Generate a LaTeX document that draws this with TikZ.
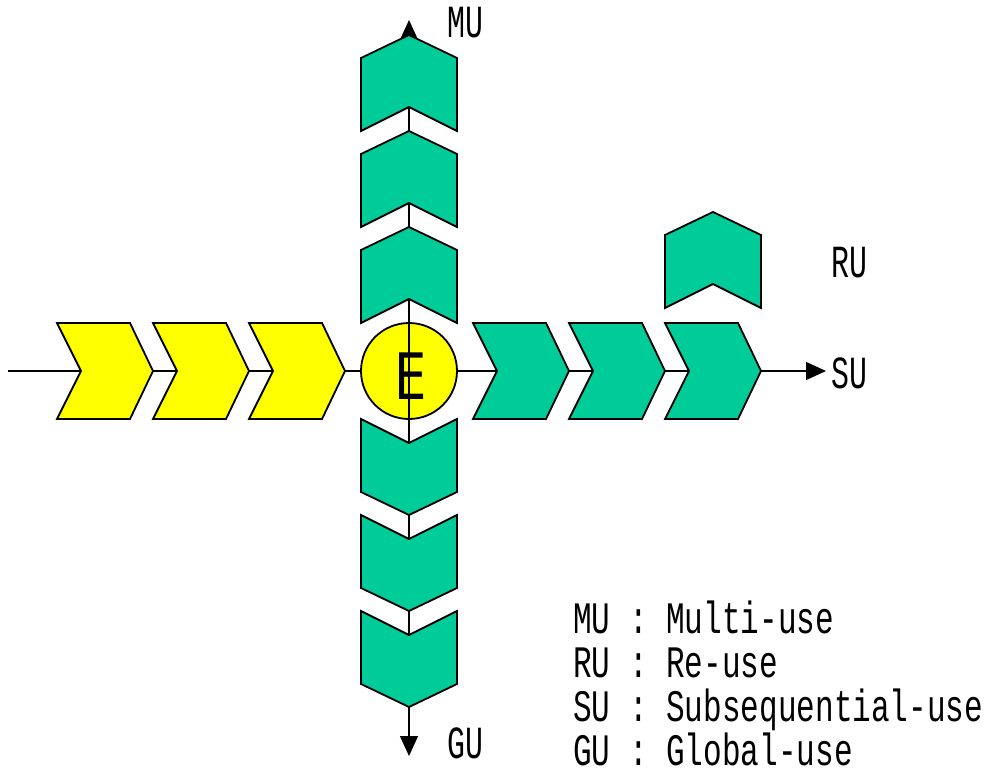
\documentclass[tikz,border=0pt]{standalone}
\usepackage{fontspec}
\usetikzlibrary{arrows.meta}
\newfontfamily\legfont{Liberation Mono}[FakeStretch=0.69]
\newfontfamily\lblfont{Liberation Mono}[FakeStretch=0.65]
\newfontfamily\efont{DejaVu Sans}[FakeStretch=0.8]
\definecolor{chgreen}{RGB}{0,204,153}
\definecolor{chyellow}{RGB}{255,255,0}
\newcommand\chevron[3]{% fill colour, shift, rotation
  \draw[chevstyle,fill=#1,shift={#2},rotate=#3]
    (0,48) -- (73,48) -- (96,0) -- (73,-48) -- (0,-48) -- (24,0) -- cycle;}
\tikzset{
  chevstyle/.style={draw=black,line width=1.8pt,line join=miter},
  axis/.style={line width=1.4pt,draw=black},
  tipstyle/.style={-{Triangle[length=20pt,width=18pt]}},
  lbl/.style={font=\lblfont\fontsize{46}{46}\selectfont,inner sep=0pt},
  leg/.style={font=\legfont\fontsize{45}{45}\selectfont,inner sep=0pt,anchor=base west},
}
\begin{document}
\begin{tikzpicture}[x=1pt,y=-1pt]
\useasboundingbox (0,0) rectangle (986,770);
% axis coordinates
\coordinate (start) at (8,371);
\coordinate (suend) at (826,371);
\coordinate (center) at (409,371);
\coordinate (mutop) at (409,20);
\coordinate (gubot) at (409,756);
% horizontal axis
\draw[axis,tipstyle] (start) -- (suend);
% central circle
\node[circle,draw=black,line width=1.8pt,fill=chyellow,minimum size=96pt,inner sep=0pt] (E) at (center) {};
% vertical axis
\draw[axis,tipstyle] (center) -- (mutop);
\draw[axis,tipstyle] (center) -- (gubot);
% yellow chevrons
\chevron{chyellow}{(57,371)}{0}
\chevron{chyellow}{(153,371)}{0}
\chevron{chyellow}{(249,371)}{0}
% green chevrons (SU)
\chevron{chgreen}{(473,371)}{0}
\chevron{chgreen}{(569,371)}{0}
\chevron{chgreen}{(665,371)}{0}
% RU chevron
\chevron{chgreen}{(713,308)}{90}
% MU chevrons
\chevron{chgreen}{(409,323)}{90}
\chevron{chgreen}{(409,227)}{90}
\chevron{chgreen}{(409,131)}{90}
% GU chevrons
\chevron{chgreen}{(409,419)}{-90}
\chevron{chgreen}{(409,515)}{-90}
\chevron{chgreen}{(409,611)}{-90}
% E letter
\node[font=\efont\fontsize{64}{64}\selectfont,inner sep=0pt] (Elbl) at (411,376) {E};
% labels
\node[lbl] (mu) at (465,23) {MU};
\node[lbl] (ru) at (849,263) {RU};
\node[lbl] (su) at (849,373) {SU};
\node[lbl] (gu) at (465,743) {GU};
% legend
\node[leg] (l1) at (573,633) {MU : Multi-use};
\node[leg] (l2) at (573,677) {RU : Re-use};
\node[leg] (l3) at (573,721) {SU : Subsequential-use};
\node[leg] (l4) at (573,765) {GU : Global-use};
\end{tikzpicture}
\end{document}
